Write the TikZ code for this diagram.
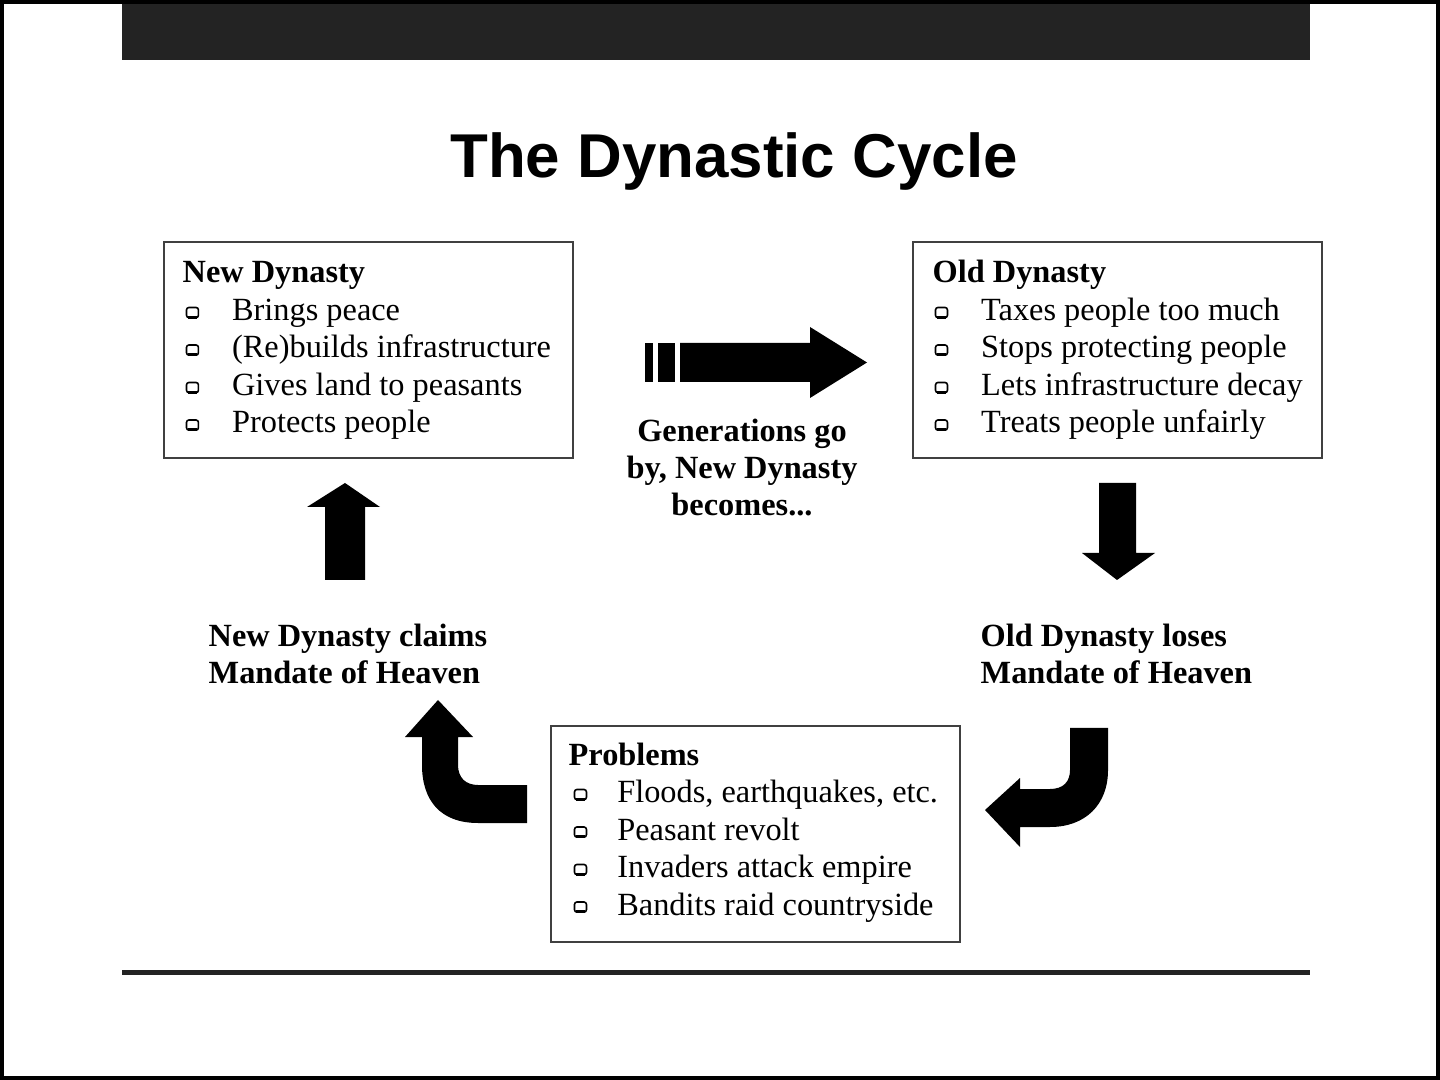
\documentclass[tikz,border=0pt]{standalone}
\usepackage{fontspec}
\setmainfont{Liberation Serif}
\newfontfamily\headfont{Liberation Sans}
\usetikzlibrary{positioning}
\definecolor{barcol}{HTML}{232323}
\newcommand{\sqbul}{\tikz[baseline=-0.8pt]{\draw[line width=0.45pt,rounded corners=0.7pt] (0,0) rectangle (3.4pt,2.9pt); \draw[line width=0.9pt] (0.4pt,0.1pt) -- (3pt,0.1pt);}}

\begin{document}
\begin{tikzpicture}[x=0.01cm, y=-0.01cm,
  dynbox/.style={draw=black!75, line width=0.6pt, minimum width=4.09cm, minimum height=2.16cm, inner sep=0pt},
  head/.style={anchor=base west, inner sep=0pt, font=\bfseries\fontsize{9.2pt}{10.6pt}\selectfont},
  item/.style={anchor=base west, inner sep=0pt, font=\fontsize{9.2pt}{10.6pt}\selectfont},
  note/.style={anchor=north, inner sep=0pt, font=\bfseries\fontsize{9.2pt}{10.6pt}\selectfont},
  blockarrow/.style={fill=black}]
  \useasboundingbox (0,0) rectangle (1440,1080);
  % frame, top bar and bottom rule
  \draw[line width=0.04cm] (2,2) rectangle (1438,1078);
  \fill[barcol] (122,4) rectangle (1310,60);
  \fill[barcol] (122,970) rectangle (1310,975);
  \node[font=\headfont\bfseries\fontsize{17.6pt}{20pt}\selectfont, anchor=base, inner sep=0pt] (title) at (734,178) {The Dynastic Cycle};

  % the three boxes
  \node[dynbox] (newdyn) at (368.5,350) {};
  \node[dynbox] (olddyn) at (1117.5,350) {};
  \node[dynbox] (probs) at (755.5,834) {};

  \node[head] (ndhead) at (182,283) {New Dynasty};
  \foreach \t [count=\i] in {Brings peace, {(Re)builds infrastructure}, Gives land to peasants, Protects people}
    \node[item] (nd\i) at (185,{283+37.5*\i}) {\makebox[13.2pt][l]{\sqbul}\t};

  \node[head] (odhead) at (932,283) {Old Dynasty};
  \foreach \t [count=\i] in {Taxes people too much, Stops protecting people, Lets infrastructure decay, Treats people unfairly}
    \node[item] (od\i) at (934,{283+37.5*\i}) {\makebox[13.2pt][l]{\sqbul}\t};

  \node[head] (prhead) at (568,765) {Problems};
  \foreach \t [count=\i] in {{Floods, earthquakes, etc.}, Peasant revolt, Invaders attack empire, Bandits raid countryside}
    \node[item] (pr\i) at (573,{765+37.5*\i}) {\makebox[12.4pt][l]{\sqbul}\t};

  % labels
  \node[note, align=center] (gen) at (742,418) {Generations go\\by, New Dynasty\\becomes...};
  \node[note, anchor=north west, align=left] (claims) at (208,623) {New Dynasty claims\\Mandate of Heaven};
  \node[note, anchor=north west, align=left] (loses) at (980,623) {Old Dynasty loses\\Mandate of Heaven};

  % block arrows
  \fill[blockarrow] (645,343) rectangle (653,382);
  \fill[blockarrow] (658,343) rectangle (675,382);
  \fill[blockarrow] (680,343) -- (810,343) -- (810,327) -- (867,362.5) -- (810,398) -- (810,382) -- (680,382) -- cycle;
  \fill[blockarrow] (1099,483) -- (1136,483) -- (1136,553) -- (1155,553) -- (1117,580) -- (1082,553) -- (1099,553) -- cycle;
  \fill[blockarrow] (1070,728) -- (1108,728) -- (1108,770) .. controls (1108,805) and (1085,827) .. (1050,827) -- (1020,827) -- (1020,847) -- (985,810) -- (1020,778) -- (1020,789) -- (1050,789) .. controls (1063,789) and (1070,782) .. (1070,770) -- cycle;
  \fill[blockarrow] (527,785) -- (478,785) .. controls (466,785) and (458,778) .. (458,765) -- (458,737) -- (473,737) -- (438,700) -- (405,737) -- (422,737) -- (422,765) .. controls (422,800) and (440,823) .. (478,823) -- (527,823) -- cycle;
  \fill[blockarrow] (325,580) -- (325,507) -- (307,507) -- (345,483) -- (380,507) -- (365,507) -- (365,580) -- cycle;
\end{tikzpicture}
\end{document}
